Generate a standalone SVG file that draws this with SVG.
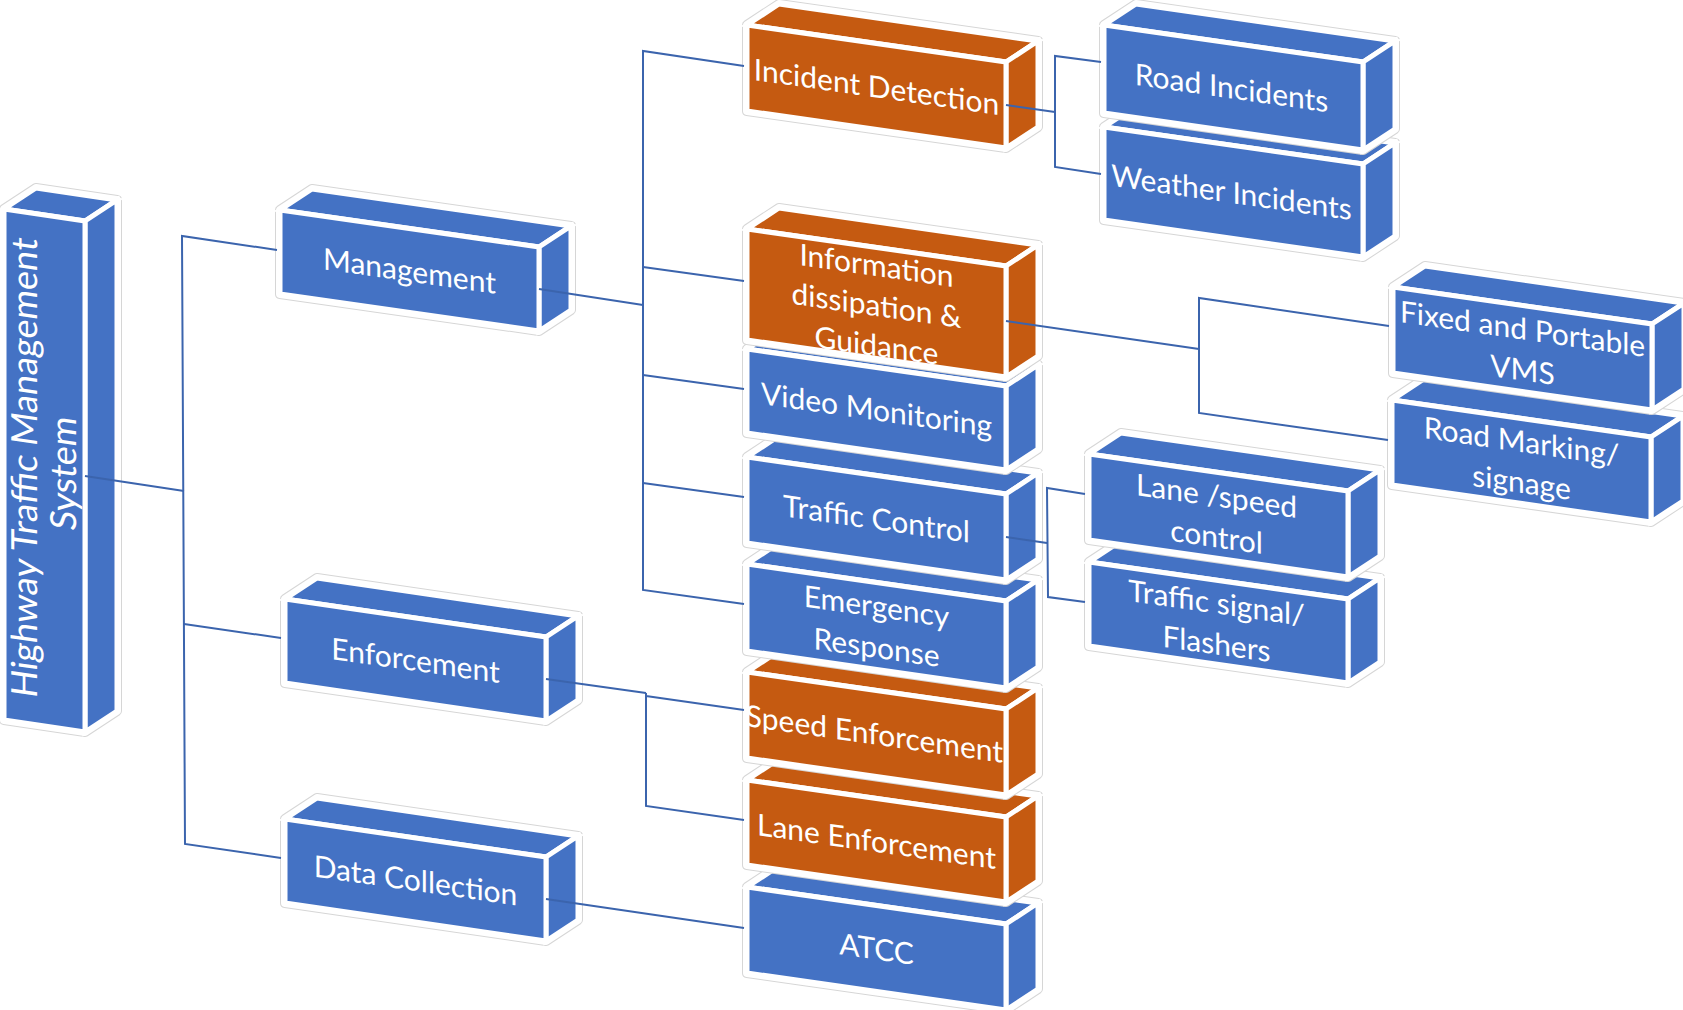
<svg xmlns="http://www.w3.org/2000/svg" width="1683" height="1010" viewBox="0 0 1683 1010">
<style>
.s0{fill:#fff;stroke:#d6d6d6;stroke-width:10;stroke-linejoin:round}
.s1{fill:#fff;stroke:#fff;stroke-width:8;stroke-linejoin:round}
.f{stroke:#fff;stroke-width:5;stroke-linejoin:miter}
.blue .f{fill:#4472C4}
.orange .f{fill:#C55A11}
.t{font-family:Lato,"Open Sans",sans-serif;font-size:30px;fill:#fff;text-anchor:middle}
.c{stroke:#3B64AD;stroke-width:2;fill:none}
</style>
<rect width="1683" height="1010" fill="#fff"/>

<g id="root" class="blue" transform="translate(4,209)">
<polygon class="s0" points="0,0 32,-21 113,-9 113,502 81,523 0,511"/>
<polygon class="s1" points="0,0 32,-21 113,-9 113,502 81,523 0,511"/>
<polygon class="f" points="0,0 32,-21 113,-9 81,12"/>
<polygon class="f" points="81,12 113,-9 113,502 81,523"/>
<polygon class="f" points="0,0 81,12 81,523 0,511"/>
<text class="t" style="font-size:36px" transform="translate(40.5,261.5) skewY(8.14) rotate(-90)"><tspan x="0" y="-8">Highway Traffic Management</tspan><tspan x="0" y="31">System</tspan></text>
</g>

<g id="management" class="blue" transform="translate(280,210)">
<polygon class="s0" points="0,0 32,-21 291,16 291,100 259,121 0,84"/>
<polygon class="s1" points="0,0 32,-21 291,16 291,100 259,121 0,84"/>
<polygon class="f" points="0,0 32,-21 291,16 259,37"/>
<polygon class="f" points="259,37 291,16 291,100 259,121"/>
<polygon class="f" points="0,0 259,37 259,121 0,84"/>
<text class="t" transform="translate(129.5,60.5) skewY(8.14)"><tspan x="0" y="11">Management</tspan></text>
</g>

<g id="enforcement" class="blue" transform="translate(285,599)">
<polygon class="s0" points="0,0 32,-21 293,17 293,101 261,122 0,84"/>
<polygon class="s1" points="0,0 32,-21 293,17 293,101 261,122 0,84"/>
<polygon class="f" points="0,0 32,-21 293,17 261,38"/>
<polygon class="f" points="261,38 293,17 293,101 261,122"/>
<polygon class="f" points="0,0 261,38 261,122 0,84"/>
<text class="t" transform="translate(130.5,61) skewY(8.14)"><tspan x="0" y="11">Enforcement</tspan></text>
</g>

<g id="data-collection" class="blue" transform="translate(285,819)">
<polygon class="s0" points="0,0 32,-21 293,17 293,101 261,122 0,84"/>
<polygon class="s1" points="0,0 32,-21 293,17 293,101 261,122 0,84"/>
<polygon class="f" points="0,0 32,-21 293,17 261,38"/>
<polygon class="f" points="261,38 293,17 293,101 261,122"/>
<polygon class="f" points="0,0 261,38 261,122 0,84"/>
<text class="t" transform="translate(130.5,61) skewY(8.14)"><tspan x="0" y="11">Data Collection</tspan></text>
</g>

<g id="atcc" class="blue" transform="translate(747,887)">
<polygon class="s0" points="0,0 32,-21 291,16 291,102 259,123 0,86"/>
<polygon class="s1" points="0,0 32,-21 291,16 291,102 259,123 0,86"/>
<polygon class="f" points="0,0 32,-21 291,16 259,37"/>
<polygon class="f" points="259,37 291,16 291,102 259,123"/>
<polygon class="f" points="0,0 259,37 259,123 0,86"/>
<text class="t" transform="translate(129.5,61.5) skewY(8.14)"><tspan x="0" y="11">ATCC</tspan></text>
</g>

<g id="lane-enforcement" class="orange" transform="translate(747,780)">
<polygon class="s0" points="0,0 32,-21 291,16 291,101 259,122 0,85"/>
<polygon class="s1" points="0,0 32,-21 291,16 291,101 259,122 0,85"/>
<polygon class="f" points="0,0 32,-21 291,16 259,37"/>
<polygon class="f" points="259,37 291,16 291,101 259,122"/>
<polygon class="f" points="0,0 259,37 259,122 0,85"/>
<text class="t" transform="translate(129.5,61) skewY(8.14)"><tspan x="0" y="11">Lane Enforcement</tspan></text>
</g>

<g id="speed-enforcement" class="orange" transform="translate(747,672)">
<polygon class="s0" points="0,0 32,-21 291,16 291,102 259,123 0,86"/>
<polygon class="s1" points="0,0 32,-21 291,16 291,102 259,123 0,86"/>
<polygon class="f" points="0,0 32,-21 291,16 259,37"/>
<polygon class="f" points="259,37 291,16 291,102 259,123"/>
<polygon class="f" points="0,0 259,37 259,123 0,86"/>
<text class="t" transform="translate(127.5,61.5) skewY(8.14)"><tspan x="0" y="11">Speed Enforcement</tspan></text>
</g>

<g id="emergency-response" class="blue" transform="translate(747,564)">
<polygon class="s0" points="0,0 32,-21 291,16 291,103 259,124 0,87"/>
<polygon class="s1" points="0,0 32,-21 291,16 291,103 259,124 0,87"/>
<polygon class="f" points="0,0 32,-21 291,16 259,37"/>
<polygon class="f" points="259,37 291,16 291,103 259,124"/>
<polygon class="f" points="0,0 259,37 259,124 0,87"/>
<text class="t" transform="translate(129.5,62) skewY(8.14)"><tspan x="0" y="-9">Emergency</tspan><tspan x="0" y="32">Response</tspan></text>
</g>

<g id="traffic-control" class="blue" transform="translate(747,457)">
<polygon class="s0" points="0,0 32,-21 291,16 291,102 259,123 0,86"/>
<polygon class="s1" points="0,0 32,-21 291,16 291,102 259,123 0,86"/>
<polygon class="f" points="0,0 32,-21 291,16 259,37"/>
<polygon class="f" points="259,37 291,16 291,102 259,123"/>
<polygon class="f" points="0,0 259,37 259,123 0,86"/>
<text class="t" transform="translate(129.5,61.5) skewY(8.14)"><tspan x="0" y="11">Traffic Control</tspan></text>
</g>

<g id="video-monitoring" class="blue" transform="translate(747,349)">
<polygon class="s0" points="0,0 32,-21 291,16 291,100 259,121 0,84"/>
<polygon class="s1" points="0,0 32,-21 291,16 291,100 259,121 0,84"/>
<polygon class="f" points="0,0 32,-21 291,16 259,37"/>
<polygon class="f" points="259,37 291,16 291,100 259,121"/>
<polygon class="f" points="0,0 259,37 259,121 0,84"/>
<text class="t" transform="translate(129.5,60.5) skewY(8.14)"><tspan x="0" y="11">Video Monitoring</tspan></text>
</g>

<g id="information-dissipation" class="orange" transform="translate(747,229)">
<polygon class="s0" points="0,0 32,-21 291,16 291,127 259,148 0,111"/>
<polygon class="s1" points="0,0 32,-21 291,16 291,127 259,148 0,111"/>
<polygon class="f" points="0,0 32,-21 291,16 259,37"/>
<polygon class="f" points="259,37 291,16 291,127 259,148"/>
<polygon class="f" points="0,0 259,37 259,148 0,111"/>
<text class="t" transform="translate(129.5,74) skewY(8.14)"><tspan x="0" y="-27">Information</tspan><tspan x="0" y="13">dissipation &amp;</tspan><tspan x="0" y="53">Guidance</tspan></text>
</g>

<g id="incident-detection" class="orange" transform="translate(747,25)">
<polygon class="s0" points="0,0 32,-21 291,16 291,102 259,123 0,86"/>
<polygon class="s1" points="0,0 32,-21 291,16 291,102 259,123 0,86"/>
<polygon class="f" points="0,0 32,-21 291,16 259,37"/>
<polygon class="f" points="259,37 291,16 291,102 259,123"/>
<polygon class="f" points="0,0 259,37 259,123 0,86"/>
<text class="t" transform="translate(129.5,61.5) skewY(8.14)"><tspan x="0" y="11">Incident Detection</tspan></text>
</g>

<g id="weather-incidents" class="blue" transform="translate(1104,127)">
<polygon class="s0" points="0,0 32,-21 291,16 291,109 259,130 0,93"/>
<polygon class="s1" points="0,0 32,-21 291,16 291,109 259,130 0,93"/>
<polygon class="f" points="0,0 32,-21 291,16 259,37"/>
<polygon class="f" points="259,37 291,16 291,109 259,130"/>
<polygon class="f" points="0,0 259,37 259,130 0,93"/>
<text class="t" transform="translate(127.5,65) skewY(8.14)"><tspan x="0" y="11">Weather Incidents</tspan></text>
</g>

<g id="road-incidents" class="blue" transform="translate(1104,25)">
<polygon class="s0" points="0,0 32,-21 291,16 291,104 259,125 0,88"/>
<polygon class="s1" points="0,0 32,-21 291,16 291,104 259,125 0,88"/>
<polygon class="f" points="0,0 32,-21 291,16 259,37"/>
<polygon class="f" points="259,37 291,16 291,104 259,125"/>
<polygon class="f" points="0,0 259,37 259,125 0,88"/>
<text class="t" transform="translate(127.5,62.5) skewY(8.14)"><tspan x="0" y="11">Road Incidents</tspan></text>
</g>

<g id="road-marking" class="blue" transform="translate(1392,400)">
<polygon class="s0" points="0,0 32,-21 291,16 291,101 259,122 0,85"/>
<polygon class="s1" points="0,0 32,-21 291,16 291,101 259,122 0,85"/>
<polygon class="f" points="0,0 32,-21 291,16 259,37"/>
<polygon class="f" points="259,37 291,16 291,101 259,122"/>
<polygon class="f" points="0,0 259,37 259,122 0,85"/>
<text class="t" transform="translate(129.5,61) skewY(8.14)"><tspan x="0" y="-9">Road Marking/</tspan><tspan x="0" y="32">signage</tspan></text>
</g>

<g id="fixed-portable-vms" class="blue" transform="translate(1393,287)">
<polygon class="s0" points="0,0 32,-21 291,16 291,102 259,123 0,86"/>
<polygon class="s1" points="0,0 32,-21 291,16 291,102 259,123 0,86"/>
<polygon class="f" points="0,0 32,-21 291,16 259,37"/>
<polygon class="f" points="259,37 291,16 291,102 259,123"/>
<polygon class="f" points="0,0 259,37 259,123 0,86"/>
<text class="t" transform="translate(129.5,61.5) skewY(8.14)"><tspan x="0" y="-9">Fixed and Portable</tspan><tspan x="0" y="32">VMS</tspan></text>
</g>

<g id="traffic-signal" class="blue" transform="translate(1089,562)">
<polygon class="s0" points="0,0 32,-21 291,16 291,100 259,121 0,84"/>
<polygon class="s1" points="0,0 32,-21 291,16 291,100 259,121 0,84"/>
<polygon class="f" points="0,0 32,-21 291,16 259,37"/>
<polygon class="f" points="259,37 291,16 291,100 259,121"/>
<polygon class="f" points="0,0 259,37 259,121 0,84"/>
<text class="t" transform="translate(127.5,60.5) skewY(8.14)"><tspan x="0" y="-9">Traffic signal/</tspan><tspan x="0" y="32">Flashers</tspan></text>
</g>

<g id="lane-speed-control" class="blue" transform="translate(1089,454)">
<polygon class="s0" points="0,0 32,-21 291,16 291,102 259,123 0,86"/>
<polygon class="s1" points="0,0 32,-21 291,16 291,102 259,123 0,86"/>
<polygon class="f" points="0,0 32,-21 291,16 259,37"/>
<polygon class="f" points="259,37 291,16 291,102 259,123"/>
<polygon class="f" points="0,0 259,37 259,123 0,86"/>
<text class="t" transform="translate(127.5,61.5) skewY(8.14)"><tspan x="0" y="-9">Lane /speed</tspan><tspan x="0" y="32">control</tspan></text>
</g>

<g id="connectors">
<path class="c" d="M85,476 L184,491"/>
<path class="c" d="M277,250 L182,236 L185,844 L281,858"/>
<path class="c" d="M184,624 L281,638"/>
<path class="c" d="M539,289 L643,305"/>
<path class="c" d="M744,66 L643,51 L643,590 L744,604"/>
<path class="c" d="M643,267 L744,281"/>
<path class="c" d="M643,375 L744,389"/>
<path class="c" d="M643,483 L744,497"/>
<path class="c" d="M546,679 L646,693"/>
<path class="c" d="M744,710 L646,696 M646,693 L646,806 L744,820"/>
<path class="c" d="M546,899 L744,928"/>
<path class="c" d="M1006,105 L1055,112"/>
<path class="c" d="M1101,62 L1055,56 L1055,167 L1101,174"/>
<path class="c" d="M1006,321 L1199,349"/>
<path class="c" d="M1389,326 L1199,298 L1199,413 L1388,440"/>
<path class="c" d="M1006,537 L1047,543"/>
<path class="c" d="M1085,494 L1047,488 L1048,597 L1085,602"/>
</g>
</svg>
